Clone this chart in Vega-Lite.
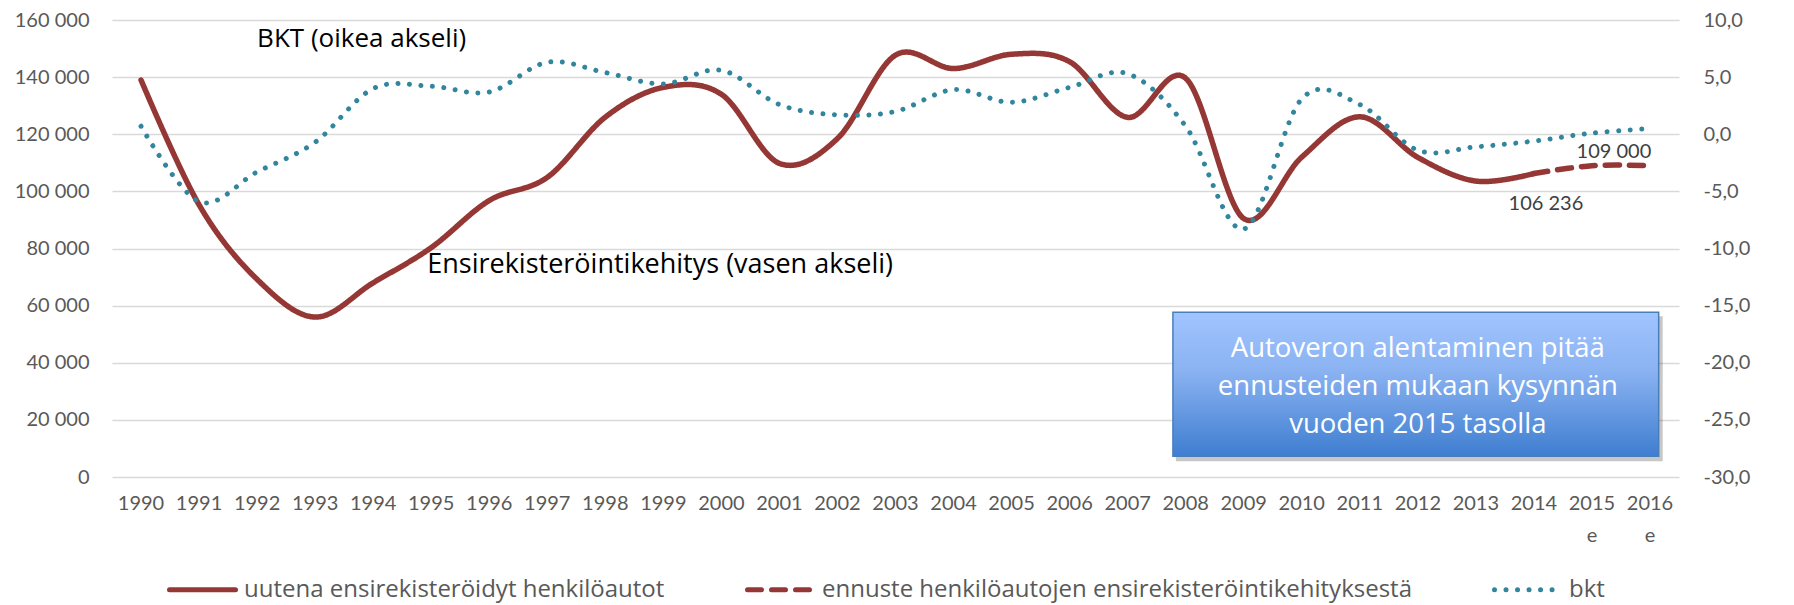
{
  "$schema": "https://vega.github.io/schema/vega-lite/v6.json",
  "autosize": "none",
  "width": 1567,
  "height": 457,
  "padding": {"left": 112, "top": 20, "right": 115, "bottom": 128},
  "background": "white",
  "config": {
    "font": "Lato",
    "view": {"stroke": null},
    "locale": {"number": {"decimal": ",", "thousands": " ", "grouping": [3], "currency": ["", " €"], "minus": "-"}}
  },
  "datasets": {
    "main": [
      {"year": "1990", "series": "uutena ensirekisteröidyt henkilöautot", "value": 139000},
      {"year": "1991", "series": "uutena ensirekisteröidyt henkilöautot", "value": 95300},
      {"year": "1992", "series": "uutena ensirekisteröidyt henkilöautot", "value": 69200},
      {"year": "1993", "series": "uutena ensirekisteröidyt henkilöautot", "value": 56000},
      {"year": "1994", "series": "uutena ensirekisteröidyt henkilöautot", "value": 68000},
      {"year": "1995", "series": "uutena ensirekisteröidyt henkilöautot", "value": 80300},
      {"year": "1996", "series": "uutena ensirekisteröidyt henkilöautot", "value": 96800},
      {"year": "1997", "series": "uutena ensirekisteröidyt henkilöautot", "value": 104900},
      {"year": "1998", "series": "uutena ensirekisteröidyt henkilöautot", "value": 126000},
      {"year": "1999", "series": "uutena ensirekisteröidyt henkilöautot", "value": 136400},
      {"year": "2000", "series": "uutena ensirekisteröidyt henkilöautot", "value": 134000},
      {"year": "2001", "series": "uutena ensirekisteröidyt henkilöautot", "value": 109800},
      {"year": "2002", "series": "uutena ensirekisteröidyt henkilöautot", "value": 118500},
      {"year": "2003", "series": "uutena ensirekisteröidyt henkilöautot", "value": 147700},
      {"year": "2004", "series": "uutena ensirekisteröidyt henkilöautot", "value": 143000},
      {"year": "2005", "series": "uutena ensirekisteröidyt henkilöautot", "value": 148000},
      {"year": "2006", "series": "uutena ensirekisteröidyt henkilöautot", "value": 145400},
      {"year": "2007", "series": "uutena ensirekisteröidyt henkilöautot", "value": 125900},
      {"year": "2008", "series": "uutena ensirekisteröidyt henkilöautot", "value": 139600},
      {"year": "2009", "series": "uutena ensirekisteröidyt henkilöautot", "value": 90500},
      {"year": "2010", "series": "uutena ensirekisteröidyt henkilöautot", "value": 112000},
      {"year": "2011", "series": "uutena ensirekisteröidyt henkilöautot", "value": 126100},
      {"year": "2012", "series": "uutena ensirekisteröidyt henkilöautot", "value": 111900},
      {"year": "2013", "series": "uutena ensirekisteröidyt henkilöautot", "value": 103600},
      {"year": "2014", "series": "uutena ensirekisteröidyt henkilöautot", "value": 106236},
      {"year": "2014", "series": "ennuste henkilöautojen ensirekisteröintikehityksestä", "value": 106236},
      {"year": "2015 e", "series": "ennuste henkilöautojen ensirekisteröintikehityksestä", "value": 109000},
      {"year": "2016 e", "series": "ennuste henkilöautojen ensirekisteröintikehityksestä", "value": 109000},
      {"year": "1990", "series": "bkt", "value": 0.7},
      {"year": "1991", "series": "bkt", "value": -5.9},
      {"year": "1992", "series": "bkt", "value": -3.3},
      {"year": "1993", "series": "bkt", "value": -0.7},
      {"year": "1994", "series": "bkt", "value": 4.0},
      {"year": "1995", "series": "bkt", "value": 4.2},
      {"year": "1996", "series": "bkt", "value": 3.7},
      {"year": "1997", "series": "bkt", "value": 6.3},
      {"year": "1998", "series": "bkt", "value": 5.4},
      {"year": "1999", "series": "bkt", "value": 4.4},
      {"year": "2000", "series": "bkt", "value": 5.6},
      {"year": "2001", "series": "bkt", "value": 2.6},
      {"year": "2002", "series": "bkt", "value": 1.7},
      {"year": "2003", "series": "bkt", "value": 2.0},
      {"year": "2004", "series": "bkt", "value": 3.9},
      {"year": "2005", "series": "bkt", "value": 2.8},
      {"year": "2006", "series": "bkt", "value": 4.1},
      {"year": "2007", "series": "bkt", "value": 5.3},
      {"year": "2008", "series": "bkt", "value": 0.7},
      {"year": "2009", "series": "bkt", "value": -8.3},
      {"year": "2010", "series": "bkt", "value": 3.1},
      {"year": "2011", "series": "bkt", "value": 2.6},
      {"year": "2012", "series": "bkt", "value": -1.4},
      {"year": "2013", "series": "bkt", "value": -1.1},
      {"year": "2014", "series": "bkt", "value": -0.6},
      {"year": "2015 e", "series": "bkt", "value": 0.1},
      {"year": "2016 e", "series": "bkt", "value": 0.5}
    ],
    "one": [{"note": "annotation"}]
  },
  "data": {"name": "main"},
  "encoding": {
    "x": {
      "field": "year", "type": "nominal", "bandPosition": 0.5,
      "scale": {"type": "band", "paddingInner": 0, "paddingOuter": 0,
        "domain": ["1990","1991","1992","1993","1994","1995","1996","1997","1998","1999","2000","2001","2002","2003","2004","2005","2006","2007","2008","2009","2010","2011","2012","2013","2014","2015 e","2016 e"]},
      "axis": {"title": null, "domain": false, "ticks": false, "grid": false, "labelAngle": 0,
        "labelFontSize": 20, "labelColor": "#595959", "labelPadding": 16, "labelLineHeight": 32,
        "labelExpr": "split(datum.label, ' ')"}
    }
  },
  "layer": [
    {
      "layer": [
        {
          "data": {"name": "one"},
          "mark": {"type": "rect", "fill": "#000000", "fillOpacity": 0.22, "strokeWidth": 0, "xOffset": 3, "x2Offset": 4, "yOffset": 4, "y2Offset": 5},
          "encoding": {
            "x": {"datum": "2008", "bandPosition": 0.28},
            "x2": {"datum": "2016 e", "bandPosition": 0.65},
            "y": {"datum": 57700, "type": "quantitative"},
            "y2": {"datum": 7300}
          }
        },
        {
          "data": {"name": "one"},
          "mark": {"type": "rect", "stroke": "#4A7EBB", "strokeWidth": 1.5,
            "fill": {"gradient": "linear", "x1": 0, "y1": 0, "x2": 0, "y2": 1,
              "stops": [{"offset": 0, "color": "#A0C4FE"}, {"offset": 0.4, "color": "#8BB3F2"}, {"offset": 1, "color": "#3F7ED0"}]}},
          "encoding": {
            "x": {"datum": "2008", "bandPosition": 0.28},
            "x2": {"datum": "2016 e", "bandPosition": 0.65},
            "y": {"datum": 57700, "type": "quantitative"},
            "y2": {"datum": 7300}
          }
        },
        {
          "data": {"name": "one"},
          "mark": {"type": "text", "font": "Open Sans", "color": "#FFFFFF", "fontSize": 27.5, "align": "center", "baseline": "alphabetic", "lineHeight": 38,
            "text": ["Autoveron alentaminen pitää", "ennusteiden mukaan kysynnän", "vuoden 2015 tasolla"]},
          "encoding": {
            "x": {"datum": "2012", "bandPosition": 0.5},
            "y": {"datum": 42000, "type": "quantitative"}
          }
        },
        {
          "transform": [{"filter": "datum.series != 'bkt'"}],
          "mark": {"type": "line", "interpolate": "cardinal", "strokeWidth": 5.5, "strokeCap": "round", "strokeJoin": "round"},
          "encoding": {
            "y": {"field": "value", "type": "quantitative",
              "scale": {"domain": [0, 160000], "nice": false, "zero": false},
              "axis": {"title": null, "orient": "left", "values": [0,20000,40000,60000,80000,100000,120000,140000,160000],
                "format": ",d", "domain": false, "ticks": false, "grid": true, "gridColor": "#D9D9D9", "gridWidth": 1.5,
                "labelFontSize": 20, "labelColor": "#595959", "labelPadding": 23}},
            "color": {"field": "series", "type": "nominal",
              "scale": {"domain": ["uutena ensirekisteröidyt henkilöautot", "ennuste henkilöautojen ensirekisteröintikehityksestä", "bkt"],
                "range": ["#953735", "#953735", "#31859C"]},
              "legend": {"title": null, "orient": "none", "legendX": 55, "legendY": 534, "direction": "horizontal",
                "symbolType": "stroke", "symbolSize": 4356, "symbolStrokeWidth": 5, "labelFont": "Open Sans", "labelFontSize": 24, "labelColor": "#595959",
                "labelLimit": 0, "columnPadding": 72, "labelOffset": 6,
                "encode": {"symbols": {"update": {"strokeCap": {"value": "round"}}}}}},
            "strokeDash": {"field": "series", "type": "nominal",
              "scale": {"domain": ["uutena ensirekisteröidyt henkilöautot", "ennuste henkilöautojen ensirekisteröintikehityksestä", "bkt"],
                "range": [[1, 0], [14, 10], [0.01, 11.5]]},
              "legend": {"title": null, "orient": "none", "legendX": 55, "legendY": 534, "direction": "horizontal",
                "symbolType": "stroke", "symbolSize": 4356, "symbolStrokeWidth": 5, "labelFont": "Open Sans", "labelFontSize": 24, "labelColor": "#595959",
                "labelLimit": 0, "columnPadding": 72, "labelOffset": 6,
                "encode": {"symbols": {"update": {"strokeCap": {"value": "round"}}}}}}
          }
        },
        {
          "transform": [{"filter": "datum.series == 'uutena ensirekisteröidyt henkilöautot' && datum.year == '2014'"}],
          "mark": {"type": "text", "fontSize": 20, "color": "#404040", "align": "center", "baseline": "middle", "dx": 12, "dy": 30},
          "encoding": {
            "y": {"field": "value", "type": "quantitative"},
            "text": {"field": "value", "type": "quantitative", "format": ",d"}
          }
        },
        {
          "transform": [{"filter": "datum.series == 'ennuste henkilöautojen ensirekisteröintikehityksestä' && datum.year == '2015 e'"}],
          "mark": {"type": "text", "fontSize": 20, "color": "#404040", "align": "center", "baseline": "middle", "dx": 22, "dy": -14},
          "encoding": {
            "y": {"field": "value", "type": "quantitative"},
            "text": {"field": "value", "type": "quantitative", "format": ",d"}
          }
        },
        {
          "data": {"name": "one"},
          "mark": {"type": "text", "text": "BKT (oikea akseli)", "font": "Open Sans", "fontSize": 26, "color": "#000000", "align": "left", "baseline": "alphabetic"},
          "encoding": {
            "x": {"datum": "1992", "bandPosition": 0.5},
            "y": {"datum": 150500, "type": "quantitative"}
          }
        },
        {
          "data": {"name": "one"},
          "mark": {"type": "text", "text": "Ensirekisteröintikehitys (vasen akseli)", "font": "Open Sans", "fontSize": 27, "color": "#000000", "align": "left", "baseline": "alphabetic", "dx": -4},
          "encoding": {
            "x": {"datum": "1995", "bandPosition": 0.5},
            "y": {"datum": 71400, "type": "quantitative"}
          }
        }
      ]
    },
    {
      "transform": [{"filter": "datum.series == 'bkt'"}],
      "mark": {"type": "line", "interpolate": "cardinal", "strokeWidth": 5, "strokeCap": "round"},
      "encoding": {
        "y": {"field": "value", "type": "quantitative",
          "scale": {"domain": [-30, 10], "nice": false, "zero": false},
          "axis": {"title": null, "orient": "right", "values": [-30,-25,-20,-15,-10,-5,0,5,10], "format": ".1f",
            "domain": false, "ticks": false, "grid": false, "labelFontSize": 20, "labelColor": "#595959", "labelPadding": 24}},
        "color": {"field": "series", "type": "nominal"},
        "strokeDash": {"field": "series", "type": "nominal"}
      }
    }
  ],
  "resolve": {"scale": {"y": "independent"}, "axis": {"y": "independent"}}
}
